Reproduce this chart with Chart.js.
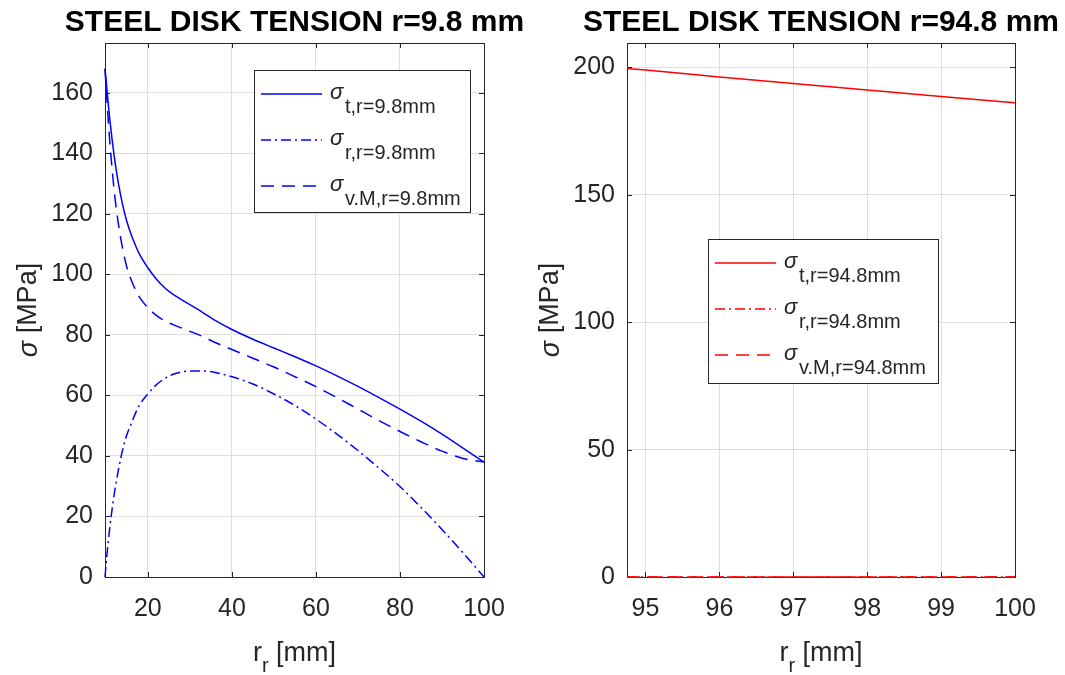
<!DOCTYPE html>
<html>
<head>
<meta charset="utf-8">
<script src="https://cdn.jsdelivr.net/npm/chart.js@4.4.1/dist/chart.umd.min.js"></script>
<style>
  html, body { margin: 0; padding: 0; background: #fff; }
  #wrap { position: relative; width: 1065px; height: 675px; }
  canvas { position: absolute; top: 0; }
</style>
</head>
<body>
<div id="wrap">
  <canvas id="diskInner" width="532" height="675" style="left:0"></canvas>
  <canvas id="diskOuter" width="533" height="675" style="left:532px"></canvas>
</div>
<script>
// stresses in MPa along the radius (mm), disk with r = 9.8 mm
const rInner = [9.8, 10.2, 10.6, 11, 11.5, 12, 12.5, 13, 14, 15, 16, 17, 18, 20, 22, 24, 26, 28, 30, 33, 36,
                40, 45, 50, 55, 60, 65, 70, 75, 80, 85, 90, 95, 100];
const sigT1  = [168, 162, 156, 150.5, 144.5, 139, 134.3, 130, 123, 117.5, 113.3, 109.8, 106.7, 102.2, 98.5, 95.6, 93.4, 91.7, 90, 87.5, 84.8,
                81.8, 78.6, 75.7, 72.8, 69.8, 66.5, 63, 59.3, 55.5, 51.5, 47.2, 42.6, 38];
const sigR1  = [0, 6.5, 12, 17, 22.5, 27.5, 31.5, 35.5, 42, 47, 50.5, 54, 56.8, 60.5, 63.5, 65.6, 67, 67.8, 68.1, 68.1, 67.6,
                66.2, 63.8, 60.5, 56.7, 52.2, 47.2, 41.8, 36, 29.9, 23, 15.7, 8, 0];
const sigVM1 = [168, 158.8, 150.4, 142.8, 134.7, 127.5, 121.6, 116.6, 108.5, 102.4, 98.3, 95.1, 92.5, 89, 86.5, 84.7, 83.4, 82.3, 81.2, 79.5, 77.5,
                75.2, 72.3, 69.4, 66.2, 62.9, 59.3, 55.5, 51.7, 48.1, 44.7, 41.6, 39.2, 38];

// disk with r = 94.8 mm
const rOuter = [94.75, 95, 96, 97, 98, 99, 100];
const sigT2  = [199.6, 199.0, 196.3, 193.7, 191.2, 188.6, 186.1];
const sigR2  = [0, 0, 0, 0, 0, 0, 0];
const sigVM2 = [0, 0, 0, 0, 0, 0, 0];

const xTicks1 = [20, 40, 60, 80, 100];
const yTicks1 = [0, 20, 40, 60, 80, 100, 120, 140, 160];
const xTicks2 = [95, 96, 97, 98, 99, 100];
const yTicks2 = [0, 50, 100, 150, 200];

const axisGray = '#262626';
const gridGray = '#dedede';
const fam = '"Liberation Sans", Arial, Helvetica, sans-serif';
const DASH = [13, 8];
const DASHDOT = [10, 4, 2, 4];

function pts(xs, ys) { return xs.map((x, i) => ({ x: x, y: ys[i] })); }

// axes box + inward tick marks, drawn under the curves
const boxTicks = {
  id: 'boxTicks',
  beforeDatasetsDraw(chart) {
    const { ctx, chartArea: a, scales: { x, y } } = chart;
    ctx.save();
    ctx.strokeStyle = axisGray;
    ctx.lineWidth = 1;
    ctx.beginPath();
    x.ticks.forEach(t => {
      const px = Math.round(x.getPixelForValue(t.value)) + 0.5;
      ctx.moveTo(px, a.bottom); ctx.lineTo(px, a.bottom - 5);
      ctx.moveTo(px, a.top); ctx.lineTo(px, a.top + 5);
    });
    y.ticks.forEach(t => {
      const py = Math.round(y.getPixelForValue(t.value)) + 0.5;
      ctx.moveTo(a.left, py); ctx.lineTo(a.left + 5, py);
      ctx.moveTo(a.right, py); ctx.lineTo(a.right - 5, py);
    });
    ctx.stroke();
    ctx.strokeRect(Math.round(a.left) + 0.5, Math.round(a.top) + 0.5, Math.round(a.width), Math.round(a.height));
    ctx.restore();
  }
};

// title, axis labels with sub/greek text, and the legend box
const labels = {
  id: 'labels',
  afterDraw(chart) {
    const { ctx, chartArea: a } = chart;
    const o = chart.options.plugins.labels;
    const cx = (a.left + a.right) / 2;
    ctx.save();

    ctx.fillStyle = '#000';
    ctx.font = 'bold 30px ' + fam;
    ctx.textAlign = 'center';
    ctx.textBaseline = 'alphabetic';
    ctx.fillText(o.title, cx, 31);

    // x label: r_r [mm]
    ctx.fillStyle = axisGray;
    ctx.textAlign = 'left';
    const big = '27px ' + fam, small = '20px ' + fam;
    ctx.font = big;
    const w1 = ctx.measureText('r').width, w3 = ctx.measureText(' [mm]').width;
    ctx.font = small;
    const w2 = ctx.measureText('r').width;
    let xx = cx - (w1 + w2 + w3) / 2;
    ctx.font = big; ctx.fillText('r', xx, 661); xx += w1;
    ctx.font = small; ctx.fillText('r', xx, 672); xx += w2;
    ctx.font = big; ctx.fillText(' [mm]', xx, 661);

    // y label: sigma [MPa], rotated
    ctx.save();
    ctx.translate(a.left - 76, (a.top + a.bottom) / 2);
    ctx.rotate(-Math.PI / 2);
    ctx.textBaseline = 'middle';
    const sg = 'italic 27px ' + fam;
    ctx.font = sg; const ws = ctx.measureText('σ').width;
    ctx.font = big; const wm = ctx.measureText(' [MPa]').width;
    let yy = -(ws + wm) / 2;
    ctx.font = sg; ctx.fillText('σ', yy, 0); yy += ws;
    ctx.font = big; ctx.fillText(' [MPa]', yy, 0);
    ctx.restore();

    // legend
    const L = o.legend;
    ctx.fillStyle = '#fff';
    ctx.fillRect(L.x, L.y, L.w, L.h);
    ctx.strokeStyle = axisGray;
    ctx.lineWidth = 1;
    ctx.strokeRect(L.x + 0.5, L.y + 0.5, L.w, L.h);
    chart.data.datasets.forEach((ds, i) => {
      const rowY = L.y + 24 + i * 46;
      ctx.strokeStyle = ds.borderColor;
      ctx.lineWidth = ds.borderWidth;
      ctx.setLineDash(ds.borderDash || []);
      ctx.beginPath();
      ctx.moveTo(L.x + 7, rowY);
      ctx.lineTo(L.x + 68, rowY);
      ctx.stroke();
      ctx.setLineDash([]);
      ctx.fillStyle = axisGray;
      ctx.textBaseline = 'alphabetic';
      ctx.font = 'italic 22px ' + fam;
      ctx.fillText('σ', L.x + 76, rowY + 5);
      ctx.font = '20px ' + fam;
      ctx.fillText(ds.label, L.x + 91, rowY + 19);
    });
    ctx.restore();
  }
};

function makeChart(id, cfg) {
  return new Chart(document.getElementById(id), {
    type: 'line',
    data: {
      datasets: [
        { label: cfg.labels[0], data: pts(cfg.r, cfg.t), borderColor: cfg.color, borderWidth: 1.5 },
        { label: cfg.labels[1], data: pts(cfg.r, cfg.rad), borderColor: cfg.color, borderWidth: 1.5, borderDash: DASHDOT },
        { label: cfg.labels[2], data: pts(cfg.r, cfg.vm), borderColor: cfg.color, borderWidth: 1.5, borderDash: DASH }
      ]
    },
    options: {
      responsive: false,
      animation: false,
      devicePixelRatio: 1,
      layout: { padding: { left: 0, top: 43, right: cfg.padRight, bottom: 0 } },
      elements: {
        point: { radius: 0 },
        line: { cubicInterpolationMode: 'monotone', fill: false }
      },
      datasets: { line: { clip: 4 } },
      plugins: {
        legend: { display: false },
        tooltip: { enabled: false },
        labels: { title: cfg.title, legend: cfg.legend }
      },
      scales: {
        x: {
          type: 'linear',
          min: cfg.xMin, max: cfg.xMax,
          afterBuildTicks: s => { s.ticks = cfg.xTicks.map(v => ({ value: v })); },
          afterFit: s => { s.height = 675 - 577; },
          grid: { color: gridGray, drawTicks: false },
          border: { display: false },
          ticks: { color: axisGray, padding: 17, maxRotation: 0, font: { family: fam, size: 25 } }
        },
        y: {
          type: 'linear',
          min: 0, max: cfg.yMax,
          afterBuildTicks: s => { s.ticks = cfg.yTicks.map(v => ({ value: v })); },
          afterFit: s => { s.width = cfg.yWidth; },
          grid: { color: gridGray, drawTicks: false },
          border: { display: false },
          ticks: { color: axisGray, padding: 12, font: { family: fam, size: 25 } }
        }
      }
    },
    plugins: [boxTicks, labels]
  });
}

makeChart('diskInner', {
  r: rInner, t: sigT1, rad: sigR1, vm: sigVM1,
  color: '#0000ff',
  labels: ['t,r=9.8mm', 'r,r=9.8mm', 'v.M,r=9.8mm'],
  title: 'STEEL DISK TENSION r=9.8 mm',
  xMin: 9.8, xMax: 100, yMax: 176.5,
  xTicks: xTicks1, yTicks: yTicks1,
  yWidth: 105, padRight: 532 - 484,
  legend: { x: 254, y: 70, w: 216, h: 142 }
});

makeChart('diskOuter', {
  r: rOuter, t: sigT2, rad: sigR2, vm: sigVM2,
  color: '#ff0000',
  labels: ['t,r=94.8mm', 'r,r=94.8mm', 'v.M,r=94.8mm'],
  title: 'STEEL DISK TENSION r=94.8 mm',
  xMin: 94.75, xMax: 100, yMax: 209.6,
  xTicks: xTicks2, yTicks: yTicks2,
  yWidth: 627 - 532, padRight: 533 - (1015 - 532),
  legend: { x: 708 - 532, y: 239, w: 230, h: 144 }
});
</script>
</body>
</html>
